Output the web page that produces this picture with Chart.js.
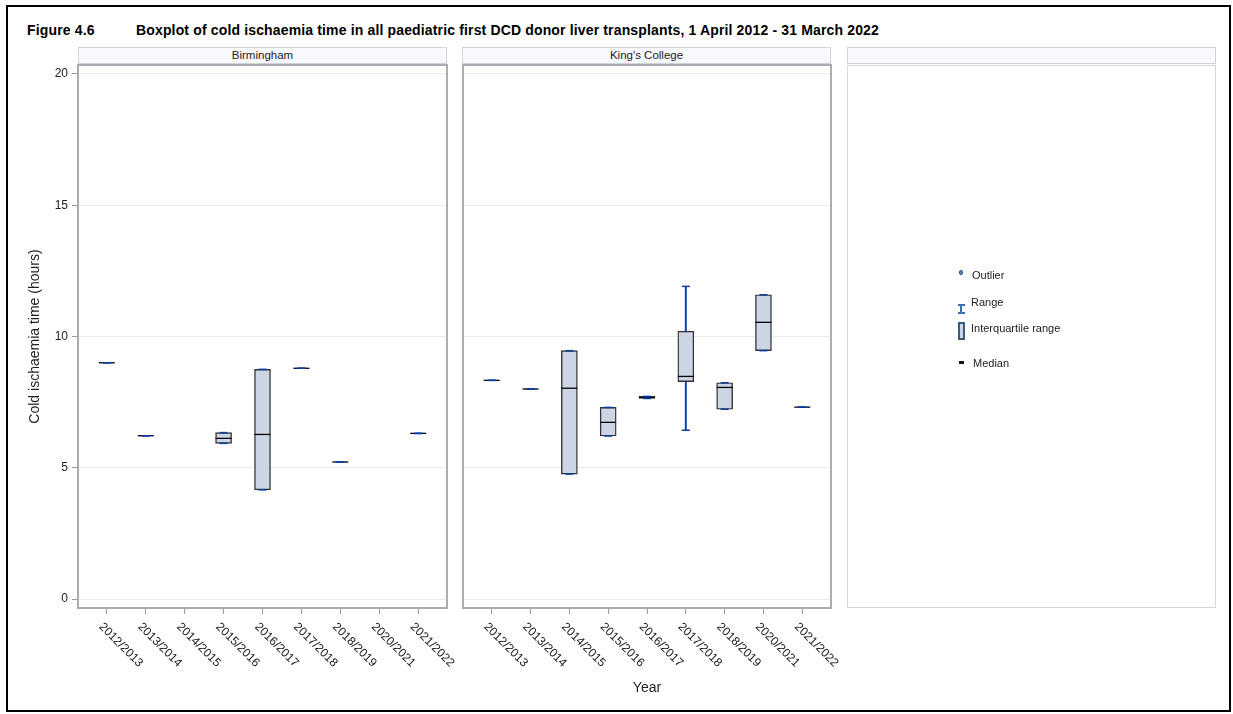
<!DOCTYPE html>
<html>
<head>
<meta charset="utf-8">
<script src="https://cdn.jsdelivr.net/npm/chart.js@4.4.0/dist/chart.umd.min.js"></script>
<style>
  body { margin: 0; background: #fff; font-family: "Liberation Sans", Arial, sans-serif; color: #222; }
  #figura { position: relative; width: 1233px; height: 714px; overflow: hidden; }
  #moldura { position: absolute; left: 6px; top: 5px; width: 1221px; height: 703px; border: 2px solid #000; }
  .titulo { position: absolute; top: 22px; font-size: 14px; font-weight: bold; color: #000; white-space: nowrap; letter-spacing: 0.15px; }
  .faixa { position: absolute; top: 47px; height: 17px; width: 369px; box-sizing: border-box;
           border: 1px solid #d0d3d9; background: #f7f9fd; font-size: 11.5px; text-align: center; line-height: 15px; color: #222; }
  canvas { position: absolute; }
  #painel3 { position: absolute; left: 847px; top: 65px; width: 369px; height: 543px; box-sizing: border-box; border: 1.5px solid #d3d6db; }
  #eixoAno { position: absolute; left: 0; width: 1294px; top: 679px; text-align: center; font-size: 14px; color: #222; }
  .leg { position: absolute; font-size: 11px; color: #222; white-space: nowrap; line-height: 12px; }
  .ic { position: absolute; box-sizing: border-box; }
</style>
</head>
<body>
<div id="figura">
  <div id="moldura"></div>
  <div class="titulo" style="left:27px">Figure 4.6</div>
  <div class="titulo" style="left:136px">Boxplot of cold ischaemia time in all paediatric first DCD donor liver transplants, 1 April 2012 - 31 March 2022</div>

  <div class="faixa" style="left:78px">Birmingham</div>
  <div class="faixa" style="left:462px">King's College</div>
  <div class="faixa" style="left:847px"></div>

  <canvas id="grafBirmingham" width="475" height="640" style="left:0px; top:60px"></canvas>
  <canvas id="grafKings" width="415" height="640" style="left:450px; top:60px"></canvas>

  <div id="painel3"></div>
  <!-- legenda -->
  <div class="ic" style="left:958.5px; top:270px; width:4.5px; height:4.5px; border:1.3px solid #2b4f8a; background:#6d86ad; border-radius:50%"></div>
  <div class="leg" style="left:972px; top:269px">Outlier</div>
  <div class="ic" style="left:957.5px; top:304px; width:7px; height:1.6px; background:#3d6fb6"></div>
  <div class="ic" style="left:960.2px; top:304px; width:1.7px; height:9.5px; background:#3d6fb6"></div>
  <div class="ic" style="left:957.5px; top:312px; width:7px; height:1.6px; background:#3d6fb6"></div>
  <div class="leg" style="left:971px; top:296px">Range</div>
  <div class="ic" style="left:958px; top:322px; width:7px; height:18px; border:2px solid #3d5a80; background:#cbd5e4"></div>
  <div class="leg" style="left:971px; top:322px">Interquartile range</div>
  <div class="ic" style="left:959px; top:361px; width:5px; height:3px; background:#111"></div>
  <div class="leg" style="left:973px; top:357px">Median</div>

  <div id="eixoAno">Year</div>
</div>

<script>
// anos (categorias do eixo x)
let anos = ['2012/2013', '2013/2014', '2014/2015', '2015/2016', '2016/2017', '2017/2018', '2018/2019', '2020/2021', '2021/2022']
let ticksY = [0, 5, 10, 15, 20]

// Birmingham - tempo de isquemia fria (horas)
let birMin     = [9.00, 6.22, null, 5.93, 4.16, 8.79, 5.22, null, 6.31]
let birQ1      = [9.00, 6.22, null, 5.93, 4.16, 8.79, 5.22, null, 6.31]
let birMediana = [9.00, 6.22, null, 6.12, 6.27, 8.79, 5.22, null, 6.31]
let birQ3      = [9.00, 6.22, null, 6.34, 8.75, 8.79, 5.22, null, 6.31]
let birMax     = [9.00, 6.22, null, 6.34, 8.75, 8.79, 5.22, null, 6.31]

// King's College
let kingsMin     = [8.33, 8.00, 4.76, 6.21, 7.64, 6.43, 7.23, 9.46, 7.31]
let kingsQ1      = [8.33, 8.00, 4.76, 6.21, 7.64, 8.28, 7.23, 9.46, 7.31]
let kingsMediana = [8.33, 8.00, 8.03, 6.73, 7.68, 8.48, 8.06, 10.54, 7.31]
let kingsQ3      = [8.33, 8.00, 9.46, 7.30, 7.72, 10.20, 8.24, 11.59, 7.31]
let kingsMax     = [8.33, 8.00, 9.46, 7.30, 7.72, 11.91, 8.24, 11.59, 7.31]

var corHaste = '#0b3ea8'

function montarDados(minimo, q1, mediana, q3, maximo) {
  let caixas = [], hastes = [], medianas = [], extremos = []
  for (let i = 0; i < anos.length; i++) {
    if (mediana[i] == null) continue
    caixas.push({ x: i, y: [q1[i], q3[i]] })
    if (minimo[i] < q1[i] || maximo[i] > q3[i]) {
      hastes.push({ x: i, y: [minimo[i], maximo[i]] })
    }
    medianas.push({ x: i, y: mediana[i] })
    extremos.push({ x: i, y: minimo[i] })
    extremos.push({ x: i, y: maximo[i] })
  }
  return [
    { type: 'scatter', data: extremos, pointStyle: 'line', pointRadius: 4, pointHoverRadius: 4,
      pointBorderColor: corHaste, pointBorderWidth: 1.5, borderColor: corHaste, order: 0 },
    { type: 'scatter', data: medianas, pointStyle: 'line', pointRadius: 8, pointHoverRadius: 8,
      pointBorderColor: '#000', pointBorderWidth: 1.3, borderColor: '#000', order: 1 },
    { type: 'bar', data: caixas, backgroundColor: '#cbd5e4', borderColor: '#333', borderWidth: 1.4,
      borderSkipped: false, barThickness: 16, grouped: false, order: 2 },
    { type: 'bar', data: hastes, backgroundColor: corHaste, borderWidth: 0,
      barThickness: 1.3, grouped: false, order: 3 }
  ]
}

// moldura cinza em volta da area do grafico
const moldura = {
  id: 'moldura',
  afterDraw(chart) {
    const a = chart.chartArea
    const ctx = chart.ctx
    ctx.save()
    ctx.strokeStyle = '#a9adb3'
    ctx.lineWidth = 2
    ctx.strokeRect(a.left, a.top, a.right - a.left, a.bottom - a.top)
    ctx.restore()
  }
}

// rotulos do eixo x inclinados para baixo
const rotulosX = {
  id: 'rotulosX',
  afterDraw(chart) {
    const eixo = chart.scales.x
    const ctx = chart.ctx
    ctx.save()
    ctx.font = '12px "Liberation Sans", Arial, sans-serif'
    ctx.fillStyle = '#222'
    ctx.textAlign = 'left'
    ctx.textBaseline = 'middle'
    eixo.ticks.forEach(function (t) {
      ctx.save()
      ctx.translate(eixo.getPixelForValue(t.value) - 6, chart.chartArea.bottom + 17)
      ctx.rotate(Math.PI / 4)
      ctx.fillText(anos[t.value], 0, 0)
      ctx.restore()
    })
    ctx.restore()
  }
}

function criarPainel(id, datasets, comEixoY, padEsq, padDir) {
  const config = {
    type: 'bar',
    data: { datasets: datasets },
    options: {
      responsive: false,
      animation: false,
      layout: { autoPadding: false, padding: { left: padEsq, right: padDir, top: 5, bottom: 0 } },
      plugins: { legend: { display: false }, tooltip: { enabled: false } },
      scales: {
        x: {
          type: 'linear',
          offset: false,
          min: -0.74,
          max: 8.74,
          afterBuildTicks: function (s) { s.ticks = anos.map(function (a, i) { return { value: i } }) },
          afterFit: function (s) {
            s.height = 92
            s.paddingLeft = 0
            s.paddingRight = 0
          },
          ticks: { display: false },
          grid: { offset: false, drawOnChartArea: false, drawTicks: true, tickLength: 6, tickColor: '#999', lineWidth: 1 },
          border: { display: false }
        },
        y: {
          type: 'linear',
          min: -0.34,
          max: 20.34,
          afterBuildTicks: function (s) { s.ticks = ticksY.map(function (v) { return { value: v } }) },
          afterFit: function (s) {
            s.width = comEixoY ? 78 : 0
            s.paddingTop = 0
            s.paddingBottom = 0
          },
          ticks: { display: comEixoY, color: '#222', padding: 4, font: { size: 12, family: '"Liberation Sans", Arial, sans-serif' } },
          grid: { color: '#ebebeb', lineWidth: 1, drawTicks: comEixoY, tickLength: 6, tickColor: '#999' },
          border: { display: false },
          title: {
            display: comEixoY,
            text: 'Cold ischaemia time (hours)',
            color: '#222',
            font: { size: 14, family: '"Liberation Sans", Arial, sans-serif' },
            padding: { top: 26.6, bottom: 0 }
          }
        }
      }
    },
    plugins: [moldura, rotulosX]
  }
  return new Chart(document.getElementById(id), config)
}

criarPainel('grafBirmingham', montarDados(birMin, birQ1, birMediana, birQ3, birMax), true, 0, 28)
criarPainel('grafKings', montarDados(kingsMin, kingsQ1, kingsMediana, kingsQ3, kingsMax), false, 13, 34)
</script>
</body>
</html>
